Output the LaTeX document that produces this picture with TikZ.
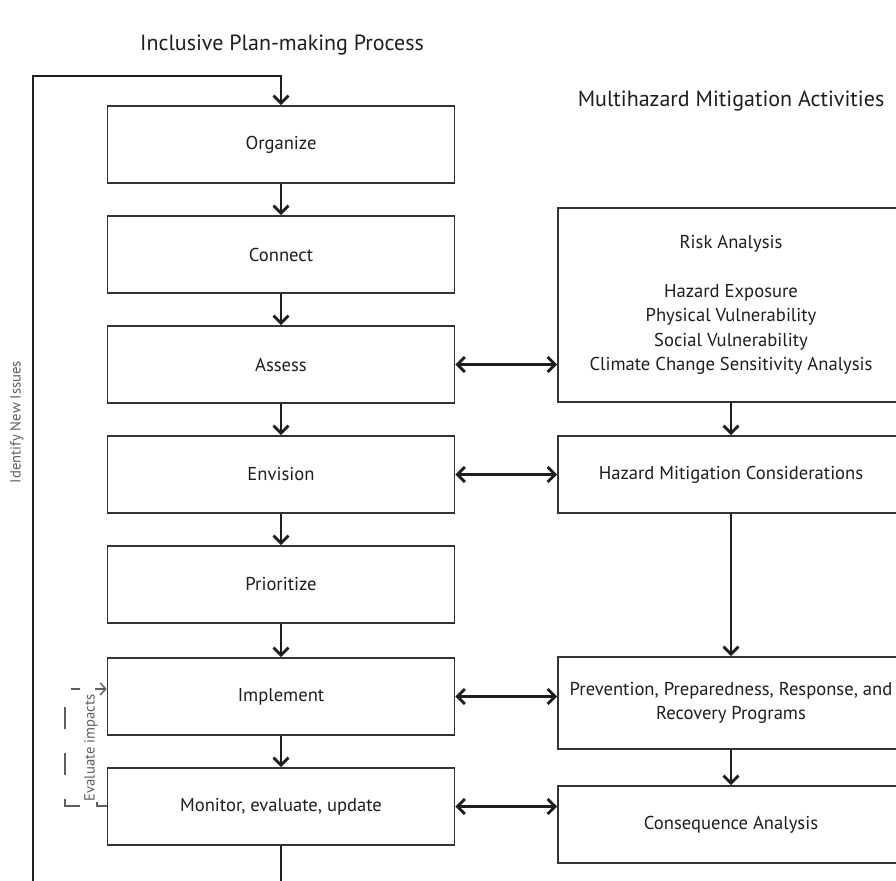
\documentclass[tikz,border=0pt]{standalone}
\usepackage{fontspec}
\setmainfont{PT Sans}
\usetikzlibrary{arrows.meta}
\definecolor{ink}{HTML}{1E1E1E}
\definecolor{frame}{HTML}{333333}
\definecolor{soft}{HTML}{5E5E5E}
\begin{document}
\begin{tikzpicture}[x=1pt,y=-1pt,
  box/.style={draw=frame,line width=1.7pt,rectangle,align=center,text=ink,
    font=\fontsize{18.6}{24.5}\selectfont,inner sep=0pt},
  lbox/.style={box,minimum width=347pt,minimum height=77pt},
  rbox/.style={box,minimum width=346pt},
  flow/.style={draw=ink,line width=2.8pt,-{Straight Barb[length=7.5pt,width=15pt]}},
  both/.style={draw=ink,line width=2.8pt,{Straight Barb[length=7.5pt,width=15pt]}-{Straight Barb[length=7.5pt,width=15pt]}},
  heading/.style={text=ink,font=\fontsize{22}{26}\selectfont},
  side/.style={text=soft,font=\fontsize{14.7}{17}\selectfont,rotate=90},
  thin/.style={draw=soft,line width=1.4pt}
]
\clip (0,0) rectangle (896,880);
\fill[white] (0,0) rectangle (896,880);

% headings
\node[heading] (t1) at (282,45) {Inclusive Plan-making Process};
\node[heading] (t2) at (731,101) {Multihazard Mitigation Activities};

% plan-making steps
\node[lbox] (org) at (281,144.5) {Organize};
\node[lbox] (con) at (281,254.5) {Connect};
\node[lbox] (ass) at (281,364.5) {Assess};
\node[lbox] (env) at (281,474.5) {Envision};
\node[lbox] (pri) at (281,584.5) {Prioritize};
\node[lbox] (imp) at (281,696.5) {Implement};
\node[lbox] (mon) at (281,806.5) {Monitor, evaluate, update};

% mitigation activities
\node[rbox,minimum height=194pt] (risk) at (731,305)
  {Risk Analysis\\[24.5pt]Hazard Exposure\\Physical Vulnerability\\Social Vulnerability\\Climate Change Sensitivity Analysis};
\node[rbox,minimum height=77pt] (haz) at (731,474.5) {Hazard Mitigation Considerations};
\node[rbox,minimum height=92pt] (prev) at (731,703) {Prevention, Preparedness, Response, and\\Recovery Programs};
\node[rbox,minimum height=77pt] (cons) at (731,824.5) {Consequence Analysis};

% step sequence
\draw[flow] (org) -- (con);
\draw[flow] (con) -- (ass);
\draw[flow] (ass) -- (env);
\draw[flow] (env) -- (pri);
\draw[flow] (pri) -- (imp);
\draw[flow] (imp) -- (mon);

% mitigation sequence
\draw[flow] (risk) -- (haz);
\draw[flow] (haz) -- (prev);
\draw[flow] (prev) -- (cons);

% links between the two columns
\draw[both] (ass.east) -- (ass.east -| risk.west);
\draw[both] (env.east) -- (haz.west);
\draw[both] (imp.east) -- (imp.east -| prev.west);
\draw[both] (mon.east) -- (mon.east -| cons.west);

% feedback loop
\coordinate (lb) at (281,892);
\coordinate (ll) at (33,892);
\coordinate (lt) at (33,76);
\draw[flow] (mon.south) -- (lb) -- (ll) -- (lt) -- (lt -| org.north) -- (org.north);
\node[side] (newiss) at (17,422) {Identify New Issues};

% evaluate impacts bracket
\node[side] (evi) at (91,748) {Evaluate impacts};
\coordinate (eb) at (97,806);
\coordinate (et) at (95,689);
\draw[thin] (mon.west |- eb) -- (eb) -- ++(0,-4);
\draw[thin,-{Straight Barb[length=5.5pt,width=12pt]}] (et) -- (imp.west |- et);
\draw[thin,line width=1.6pt,dash pattern=on 22pt off 24pt] (80,806) -- (65,806) -- (65,689) -- (80,689);
\end{tikzpicture}
\end{document}
